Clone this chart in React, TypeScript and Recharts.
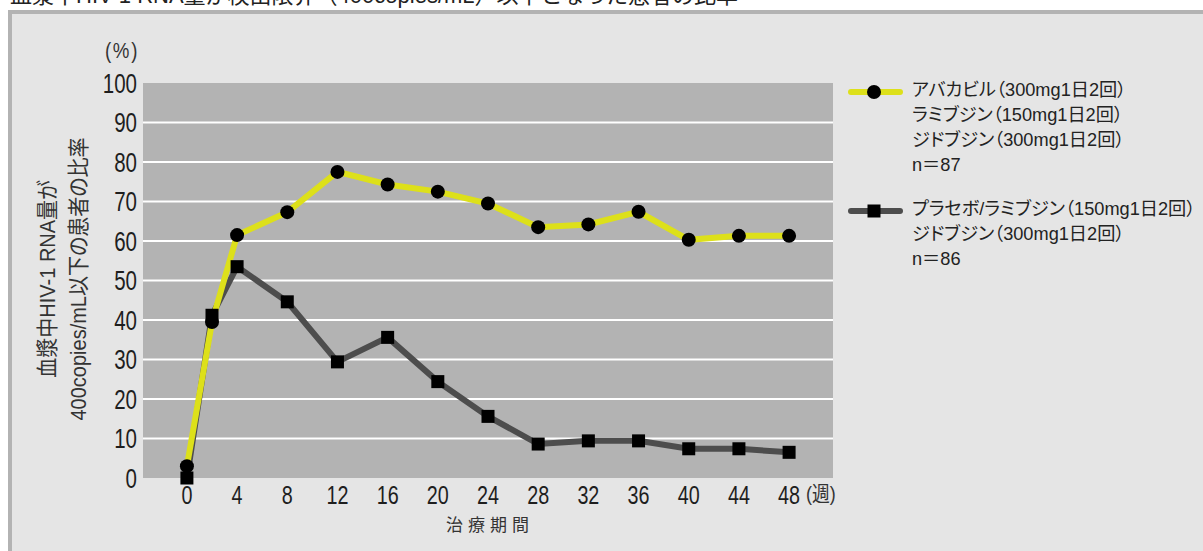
import { CartesianGrid, Legend, Line, LineChart, XAxis, YAxis } from "recharts";

// weeks from start of treatment
const weeks = [0, 2, 4, 8, 12, 16, 20, 24, 28, 32, 36, 40, 44, 48];
// % of patients with plasma HIV-1 RNA <= 400 copies/mL
const abcValues = [3, 39.5, 61.5, 67.3, 77.5, 74.3, 72.5, 69.5, 63.5, 64.2, 67.4, 60.3, 61.3, 61.3];
const placeboValues = [0, 41.2, 53.5, 44.6, 29.4, 35.6, 24.4, 15.6, 8.6, 9.4, 9.4, 7.4, 7.4, 6.5];

const xTicks = [0, 4, 8, 12, 16, 20, 24, 28, 32, 36, 40, 44, 48];
const yTicks = [0, 10, 20, 30, 40, 50, 60, 70, 80, 90, 100];
const gridValues = [10, 20, 30, 40, 50, 60, 70, 80, 90];

const abcLegend = ["アバカビル（300mg1日2回）", "ラミブジン（150mg1日2回）", "ジドブジン（300mg1日2回）", "n＝87"];
const placeboLegend = ["プラセボ/ラミブジン（150mg1日2回）", "ジドブジン（300mg1日2回）", "n＝86"];
const yTitle = ["血漿中HIV-1 RNA量が", "400copies/mL以下の患者の比率"];
const xTitle = "治療期間";
const xUnit = "(週)";
const yUnit = "(%)";
const caption = "血漿中HIV-1 RNA量が検出限界（400copies/mL）以下となった患者の比率";

const data = weeks.map((week, i) => ({ week, abc: abcValues[i], placebo: placeboValues[i] }));

const YELLOW = "#dde01a";
const DARK = "#4d4d4d";
const TEXT = "#1e1e1e";
const SANS = '"Liberation Sans", "Noto Sans CJK JP", sans-serif';
const PALT = { fontFeatureSettings: '"palt"' };
// condensed look: regular sans squeezed horizontally
const SQUEEZE = 0.76;

const series = [
    { key: "abc", color: YELLOW, marker: "circle", lines: abcLegend, top: 0 },
    { key: "placebo", color: DARK, marker: "square", lines: placeboLegend, top: 119 },
];

const CircleDot = (props: any) => {
    const { cx, cy, index } = props;
    return <circle key={`c-${index}`} cx={cx} cy={cy} r={7} fill="#000" />;
};

const SquareDot = (props: any) => {
    const { cx, cy, index } = props;
    return <rect key={`s-${index}`} x={cx - 6.5} y={cy - 6.5} width={13} height={13} fill="#000" />;
};

const WeekTick = (props: any) => {
    const { x, y, payload } = props;
    return (
        <g>
            <text transform={`translate(${x}, ${y}) scale(${SQUEEZE}, 1)`} dy="0.71em" textAnchor="middle"
                  fontSize={26} fill={TEXT} fontFamily={SANS}>
                {payload.value}
            </text>
            {payload.value === 48 && (
                <text transform={`translate(${x + 17}, ${y}) scale(0.85, 1)`} dy="0.71em" fontSize={21} fill="#333"
                      fontFamily={SANS} style={PALT}>
                    {xUnit}
                </text>
            )}
        </g>
    );
};

const PercentTick = (props: any) => {
    const { x, y, payload } = props;
    return (
        <text transform={`translate(${x}, ${y}) scale(${SQUEEZE}, 1)`} dy="0.355em" textAnchor="end"
              fontSize={27} fill={TEXT} fontFamily={SANS}>
            {payload.value}
        </text>
    );
};

const LegendBlock = () => (
    <div style={{ position: "relative", width: 357, height: 200, fontFamily: SANS, fontSize: 18.2, color: "#222", ...PALT }}>
        {series.map((s) => (
            <div key={s.key} style={{ position: "absolute", left: 0, top: s.top }}>
                <svg width={60} height={20} style={{ position: "absolute", left: 0, top: 4 }}>
                    <line x1={5} y1={10} x2={54} y2={10} stroke={s.color} strokeWidth={6} strokeLinecap="round" />
                    {s.marker === "circle"
                        ? <circle cx={28} cy={10} r={7} fill="#000" />
                        : <rect x={21.5} y={3.5} width={13} height={13} fill="#000" />}
                </svg>
                <div style={{ position: "absolute", left: 66, top: 0, whiteSpace: "nowrap", lineHeight: "25px" }}>
                    {s.lines.map((t, i) => <div key={i}>{t}</div>)}
                </div>
            </div>
        ))}
    </div>
);

export default function App() {
    return (
        <div style={{ position: "absolute", left: 0, top: 0, width: 1203, height: 551, background: "#fff", overflow: "hidden" }}>
            <div style={{ position: "absolute", left: 8, top: 10, width: 1200, height: 545, background: "#e5e5e5",
                borderLeft: "4px solid #b3b3b3", borderTop: "4px solid #b3b3b3", boxSizing: "border-box" }} />
            <svg width={1203} height={551} style={{ position: "absolute", left: 0, top: 0, pointerEvents: "none" }}>
                <text x={10} y={3} fontSize={22} fill="#222" fontFamily={SANS}>{caption}</text>
                <text transform={`translate(122, 58) scale(0.85, 1)`} fontSize={22} fill="#333" textAnchor="middle"
                      letterSpacing={2} fontFamily={SANS}>{yUnit}</text>
                {yTitle.map((t, i) => {
                    const cx = 47 + i * 31;
                    return (
                        <text key={i} transform={`translate(${cx}, 279) rotate(-90) scale(0.91, 1)`} textAnchor="middle"
                              dominantBaseline="central" fontSize={22} fill="#333" fontFamily={SANS} style={PALT}>
                            {t}
                        </text>
                    );
                })}
                <text x={490} y={531} fontSize={17} fill="#333" textAnchor="middle" letterSpacing={5} fontFamily={SANS}>{xTitle}</text>
            </svg>
            <div style={{ position: "absolute", left: 0, top: 0 }}>
                <LineChart width={1203} height={551} data={data} margin={{ top: 83, right: 370, bottom: 33, left: 0 }}>
                    <CartesianGrid fill="#b3b3b3" stroke="#fff" strokeWidth={2} vertical={false} horizontalValues={gridValues} />
                    <XAxis type="number" dataKey="week" domain={[-3.5, 51.5]} ticks={xTicks} interval={0} height={40}
                           axisLine={false} tickLine={false} tickSize={6} tickMargin={2} tick={<WeekTick />} />
                    <YAxis type="number" domain={[0, 100]} ticks={yTicks} interval={0} width={143}
                           axisLine={false} tickLine={false} tickSize={4} tickMargin={2} tick={<PercentTick />} />
                    <Legend layout="horizontal" align="center" verticalAlign="middle" content={<LegendBlock />}
                            wrapperStyle={{ left: 846, top: 78, width: 357, height: 200 }} />
                    <Line type="linear" dataKey="placebo" stroke={DARK} strokeWidth={6} dot={SquareDot}
                          activeDot={false} isAnimationActive={false} />
                    <Line type="linear" dataKey="abc" stroke={YELLOW} strokeWidth={6} dot={CircleDot}
                          activeDot={false} isAnimationActive={false} />
                </LineChart>
            </div>
        </div>
    );
}
